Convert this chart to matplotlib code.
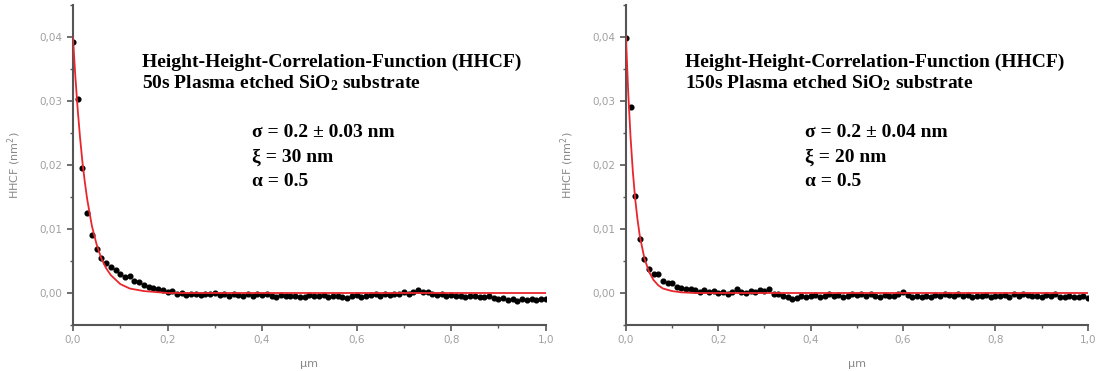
import numpy as np
import matplotlib.pyplot as plt
from matplotlib.ticker import MultipleLocator

# lag distance (um) for the measured HHCF points
lag = [i / 100 for i in range(101)]

# measured HHCF (nm^2), 50 s etched sample
hhcf_50s = [0.0392, 0.0303, 0.0195, 0.0125, 0.0090, 0.0068, 0.0055, 0.0047, 0.0040, 0.0036,
            0.0030, 0.0025, 0.0027, 0.0018, 0.0017, 0.0012, 0.0010, 0.0008, 0.0007, 0.0005,
            0.0001, 0.0003, -0.0002, 0.0000, -0.0003, -0.0001, -0.0002, -0.0003, -0.0001, -0.0002,
            0.0000, -0.0003, -0.0001, -0.0004, -0.0002, -0.0003, -0.0005, -0.0002, -0.0004, -0.0001,
            -0.0003, -0.0002, -0.0004, -0.0006, -0.0003, -0.0005, -0.0004, -0.0005, -0.0007, -0.0006,
            -0.0003, -0.0005, -0.0004, -0.0003, -0.0006, -0.0004, -0.0005, -0.0007, -0.0008, -0.0005,
            -0.0003, -0.0006, -0.0004, -0.0003, -0.0002, -0.0004, -0.0002, -0.0003, -0.0001, -0.0002,
            0.0001, -0.0001, 0.0002, 0.0005, 0.0001, 0.0002, -0.0002, -0.0003, -0.0002, -0.0004,
            -0.0003, -0.0005, -0.0004, -0.0006, -0.0005, -0.0004, -0.0006, -0.0007, -0.0005, -0.0008,
            -0.0010, -0.0008, -0.0011, -0.0009, -0.0012, -0.0010, -0.0011, -0.0009, -0.0011, -0.0010,
            -0.0010]

# measured HHCF (nm^2), 150 s etched sample
hhcf_150s = [0.0398, 0.0290, 0.0152, 0.0084, 0.0053, 0.0037, 0.0029, 0.0029, 0.0018, 0.0016,
             0.0015, 0.0010, 0.0008, 0.0007, 0.0006, 0.0005, 0.0002, 0.0005, 0.0002, 0.0003,
             0.0000, 0.0001, -0.0001, 0.0002, 0.0006, 0.0002, 0.0000, 0.0003, 0.0002, 0.0004,
             0.0003, 0.0006, -0.0001, -0.0002, -0.0004, -0.0006, -0.0009, -0.0008, -0.0005, -0.0006,
             -0.0004, -0.0003, -0.0006, -0.0004, -0.0002, -0.0005, -0.0003, -0.0006, -0.0004, -0.0002,
             -0.0003, -0.0001, -0.0004, -0.0002, -0.0005, -0.0006, -0.0003, -0.0005, -0.0004, -0.0002,
             0.0001, -0.0003, -0.0006, -0.0005, -0.0007, -0.0004, -0.0006, -0.0003, -0.0005, -0.0002,
             -0.0003, -0.0005, -0.0002, -0.0004, -0.0003, -0.0006, -0.0004, -0.0005, -0.0003, -0.0006,
             -0.0004, -0.0005, -0.0003, -0.0006, -0.0002, -0.0004, -0.0001, -0.0003, -0.0005, -0.0004,
             -0.0006, -0.0003, -0.0005, -0.0002, -0.0006, -0.0007, -0.0004, -0.0006, -0.0007, -0.0005,
             -0.0008]

# fitted curves
fit_x_50s = [0, 0.005, 0.01, 0.015, 0.02, 0.025, 0.03, 0.04, 0.05, 0.06, 0.07, 0.08, 0.10, 0.12, 0.15, 0.20, 1.0]
fit_y_50s = [0.0400, 0.0339, 0.0287, 0.0243, 0.0205, 0.0174, 0.0147, 0.0105, 0.0076, 0.0054, 0.0039,
             0.0028, 0.0014, 0.0007, 0.0003, 0.0000, 0.0000]
fit_x_150s = [0, 0.005, 0.01, 0.015, 0.02, 0.025, 0.03, 0.04, 0.05, 0.06, 0.07, 0.08, 0.10, 0.12, 0.15, 1.0]
fit_y_150s = [0.0400, 0.0312, 0.0243, 0.0189, 0.0147, 0.0115, 0.0089, 0.0054, 0.0033, 0.0020, 0.0012,
              0.0007, 0.0003, 0.0001, 0.0000, 0.0000]

x_ticks = [0.0, 0.2, 0.4, 0.6, 0.8, 1.0]
x_ticklabels = ['0,0', '0,2', '0,4', '0,6', '0,8', '1,0']
y_ticks = [0.00, 0.01, 0.02, 0.03, 0.04]
y_ticklabels = ['0,00', '0,01', '0,02', '0,03', '0,04']

titles = ['50s Plasma etched SiO$_2$ substrate', '150s Plasma etched SiO$_2$ substrate']
params = [['σ = 0.2 ± 0.03 nm', 'ξ = 30 nm', 'α = 0.5'],
          ['σ = 0.2 ± 0.04 nm', 'ξ = 20 nm', 'α = 0.5']]

plt.rcParams['mathtext.default'] = 'regular'

fig = plt.figure(figsize=(10.97, 3.71), dpi=100)
ax1 = fig.add_axes([0.0665, 0.124, 0.431, 0.8625])
ax2 = fig.add_axes([0.5706, 0.124, 0.421, 0.8625])

panels = [(ax1, hhcf_50s, fit_x_50s, fit_y_50s, 0.146, 0.378),
          (ax2, hhcf_150s, fit_x_150s, fit_y_150s, 0.128, 0.387)]

for i, (ax, data, fx, fy, tx, px) in enumerate(panels):
    ax.plot(lag, data, 'o', color='black', markersize=3.4, zorder=2)
    ax.plot(fx, fy, color='#e8262c', lw=1.3, zorder=3)

    ax.set_xlim(0, 1.0)
    ax.set_ylim(-0.005, 0.045)
    ax.spines['top'].set_visible(False)
    ax.spines['right'].set_visible(False)
    for s in ['left', 'bottom']:
        ax.spines[s].set_color('#555555')
        ax.spines[s].set_linewidth(1.5)

    ax.set_xticks(x_ticks)
    ax.set_xticklabels(x_ticklabels)
    ax.set_yticks(y_ticks)
    ax.set_yticklabels(y_ticklabels)
    ax.xaxis.set_minor_locator(MultipleLocator(0.1))
    ax.yaxis.set_minor_locator(MultipleLocator(0.005))
    ax.tick_params(which='major', direction='out', length=4, width=1.2, color='#555555',
                   labelsize=7.5, labelcolor='#a0a0a0')
    ax.tick_params(which='minor', direction='out', length=2.5, width=1, color='#555555')

    ax.set_xlabel('µm', color='#888888', fontsize=8, labelpad=10)
    ax.set_ylabel('HHCF (nm$^2$)', color='#888888', fontsize=8, labelpad=12)

    ax.text(tx, 0.822, 'Height-Height-Correlation-Function (HHCF)', transform=ax.transAxes,
            family='Liberation Serif', weight='bold', fontsize=14, va='center')
    ax.text(tx, 0.756, titles[i], transform=ax.transAxes,
            family='Liberation Serif', weight='bold', fontsize=14, va='center')
    for j, line in enumerate(params[i]):
        ax.text(px, 0.603 - j * 0.078, line, transform=ax.transAxes,
                family='Liberation Serif', weight='bold', fontsize=14, va='center')

fig.savefig('out.png', dpi=100)
